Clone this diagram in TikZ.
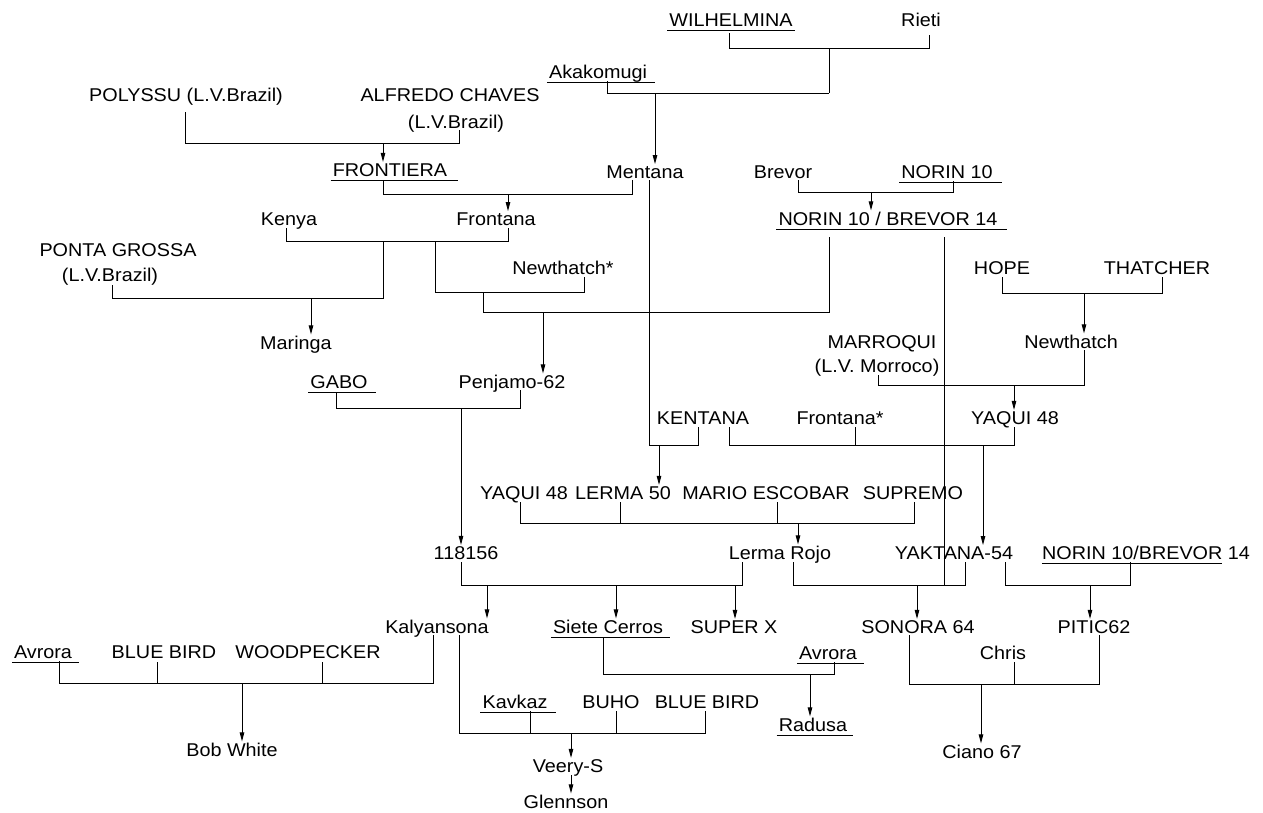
\documentclass[tikz,border=0pt]{standalone}
\usepackage{fontspec}
\setmainfont{Liberation Sans}[FakeStretch=1.07]
\usetikzlibrary{arrows.meta}
\begin{document}
\begin{tikzpicture}[x=1pt,y=-1pt,
  lbl/.style={anchor=base,inner sep=0pt,font=\fontsize{18.5}{22}\selectfont},
  ln/.style={line width=0.9pt},
  arr/.style={line width=0.9pt,shorten >=1.5pt,-{Triangle[length=9pt,width=4.5pt]}},
  ul/.style={line width=0.9pt}]
\useasboundingbox (0,0) rectangle (1263,812);
% ---------- nodes ----------
\node[lbl] (wil) at (731,26.5) {WILHELMINA};
\node[lbl] (rieti) at (921,26.5) {Rieti};
\node[lbl] (aka) at (598,78.5) {Akakomugi};
\node[lbl] (poly) at (186,101.5) {POLYSSU (L.V.Brazil)};
\node[lbl] (alf) at (450,101.5) {ALFREDO CHAVES};
\node[lbl] (alfb) at (456,128.5) {(L.V.Brazil)};
\node[lbl] (fron) at (390,176.5) {FRONTIERA};
\node[lbl] (men) at (645,178.5) {Mentana};
\node[lbl] (brev) at (783,178.5) {Brevor};
\node[lbl] (nor) at (947,178.5) {NORIN 10};
\node[lbl] (nb) at (888,225.5) {NORIN 10 / BREVOR 14};
\node[lbl] (kenya) at (289,225.5) {Kenya};
\node[lbl] (frontana) at (496,225.5) {Frontana};
\node[lbl] (ponta) at (118,256.5) {PONTA GROSSA};
\node[lbl] (pontab) at (110,281.5) {(L.V.Brazil)};
\node[lbl] (ntstar) at (563,274.5) {Newthatch*};
\node[lbl] (hope) at (1002,274.5) {HOPE};
\node[lbl] (thatch) at (1157,274.5) {THATCHER};
\node[lbl] (maringa) at (296,349.5) {Maringa};
\node[lbl] (marr) at (882,348.5) {MARROQUI};
\node[lbl] (marrb) at (877,372.5) {(L.V. Morroco)};
\node[lbl] (newt) at (1071,348.5) {Newthatch};
\node[lbl] (gabo) at (339,388.5) {GABO};
\node[lbl] (penj) at (512,388.5) {Penjamo-62};
\node[lbl] (kent) at (703,424.5) {KENTANA};
\node[lbl] (frst) at (840,424.5) {Frontana*};
\node[lbl] (yaq) at (1015,424.5) {YAQUI 48};
\node[lbl] (yaqb) at (524,499.5) {YAQUI 48};
\node[lbl] (lerma) at (623,499.5) {LERMA 50};
\node[lbl] (mario) at (766,499.5) {MARIO ESCOBAR};
\node[lbl] (sup) at (913,499.5) {SUPREMO};
\node[lbl] (n118) at (466,559.5) {118156};
\node[lbl] (lr) at (780,559.5) {Lerma Rojo};
\node[lbl] (yak) at (954,559.5) {YAKTANA-54};
\node[lbl] (nbb) at (1146,559.5) {NORIN 10/BREVOR 14};
\node[lbl] (kaly) at (437,633.5) {Kalyansona};
\node[lbl] (siete) at (608,633.5) {Siete Cerros};
\node[lbl] (superx) at (734,633.5) {SUPER X};
\node[lbl] (sonora) at (918,633.5) {SONORA 64};
\node[lbl] (pitic) at (1094,633.5) {PITIC62};
\node[lbl] (avra) at (43,658.5) {Avrora};
\node[lbl] (bba) at (164,658.5) {BLUE BIRD};
\node[lbl] (wood) at (308,658.5) {WOODPECKER};
\node[lbl] (avrb) at (828,659.5) {Avrora};
\node[lbl] (chris) at (1003,659.5) {Chris};
\node[lbl] (kav) at (515,708.5) {Kavkaz};
\node[lbl] (buho) at (611,708.5) {BUHO};
\node[lbl] (bbb) at (707,708.5) {BLUE BIRD};
\node[lbl] (radusa) at (813,731.5) {Radusa};
\node[lbl] (bob) at (232,756.5) {Bob White};
\node[lbl] (ciano) at (982,758.5) {Ciano 67};
\node[lbl] (veery) at (568,772.5) {Veery-S};
\node[lbl] (glenn) at (566,808.5) {Glennson};
% ---------- underlines ----------
\foreach \n/\e in {wil/2,aka/8,fron/11,nor/9,nb/9,gabo/8,avra/7,avrb/7,kav/8,radusa/6,siete/7}
  \draw[ul] ([xshift=-2pt,yshift=-3.5pt]\n.base west) -- ([xshift=\e pt,yshift=-3.5pt]\n.base east);
\draw[ul] ([yshift=-3.5pt]nbb.base west) -- ([yshift=-3.5pt]1222,0 |- nbb.base);
% ---------- connectors ----------
\draw[ln] (729,33) -- (729,48) -- (929,48) -- (929,35);
\draw[ln] (829,48) -- (829,93);
\draw[ln] (607,81) -- (607,93) -- (829,93);
\draw[arr] (655,93) -- (655,0 |- men.north);
\draw[ln] (185,112) -- (185,143) -- (459,143) -- (459,130);
\draw[arr] (383,143) -- (383,0 |- fron.north);
\draw[ln] (383,181) -- (383,194) -- (632,194) -- (632,180);
\draw[arr] (508,194) -- (508,0 |- frontana.north);
\draw[ln] (798,180) -- (798,192) -- (953,192) -- (953,181);
\draw[arr] (871,192) -- (871,0 |- nb.north);
\draw[ln] (286,228) -- (286,241) -- (508,241) -- (508,228);
\draw[ln] (112,285) -- (112,298) -- (383,298) -- (383,241);
\draw[arr] (311,298) -- (311,0 |- maringa.north);
\draw[ln] (435,241) -- (435,292) -- (584,292) -- (584,277);
\draw[ln] (483,292) -- (483,312) -- (829,312) -- (829,237);
\draw[arr] (543,312) -- (543,0 |- penj.north);
\draw[ln] (649,180) -- (649,445) -- (698,445) -- (698,427);
\draw[arr] (659,445) -- (659,0 |- lerma.north);
\draw[ln] (1002,277) -- (1002,293) -- (1162,293) -- (1162,277);
\draw[arr] (1084,293) -- (1084,0 |- newt.north);
\draw[ln] (878,375) -- (878,385) -- (1084,385) -- (1084,350);
\draw[arr] (1014,385) -- (1014,0 |- yaq.north);
\draw[ln] (336,392) -- (336,408) -- (520,408) -- (520,390);
\draw[arr] (461,408) -- (461,0 |- n118.north);
\draw[ln] (729,427) -- (729,445) -- (1014,445) -- (1014,427);
\draw[ln] (855,427) -- (855,445);
\draw[arr] (983,445) -- (983,0 |- yak.north);
\draw[ln] (520,502) -- (520,523) -- (914,523) -- (914,502);
\draw[ln] (620,502) -- (620,523);
\draw[ln] (777,502) -- (777,523);
\draw[arr] (798,523) -- (798,0 |- lr.north);
\draw[ln] (944,237) -- (944,585);
\draw[ln] (461,562) -- (461,585) -- (742,585) -- (742,562);
\draw[arr] (487,585) -- (487,0 |- kaly.north);
\draw[arr] (616,585) -- (616,0 |- siete.north);
\draw[arr] (735,585) -- (735,0 |- superx.north);
\draw[ln] (793,562) -- (793,585) -- (965,585) -- (965,562);
\draw[arr] (917,585) -- (917,0 |- sonora.north);
\draw[ln] (1005,562) -- (1005,585) -- (1130,585) -- (1130,562);
\draw[arr] (1090,585) -- (1090,0 |- pitic.north);
\draw[ln] (59,661) -- (59,683) -- (433,683) -- (433,635);
\draw[ln] (157,662) -- (157,683);
\draw[ln] (322,662) -- (322,683);
\draw[arr] (242,683) -- (242,0 |- bob.north);
\draw[ln] (459,635) -- (459,733) -- (705,733) -- (705,711);
\draw[ln] (530,711) -- (530,733);
\draw[ln] (616,711) -- (616,733);
\draw[arr] (571,733) -- (571,0 |- veery.north);
\draw[ln] (603,637) -- (603,674) -- (834,674) -- (834,662);
\draw[arr] (810,674) -- (810,0 |- radusa.north);
\draw[ln] (909,635) -- (909,684) -- (1099,684) -- (1099,635);
\draw[ln] (1014,662) -- (1014,684);
\draw[arr] (981,684) -- (981,0 |- ciano.north);
\draw[arr] (571,775) -- (571,0 |- glenn.north);
\end{tikzpicture}
\end{document}
